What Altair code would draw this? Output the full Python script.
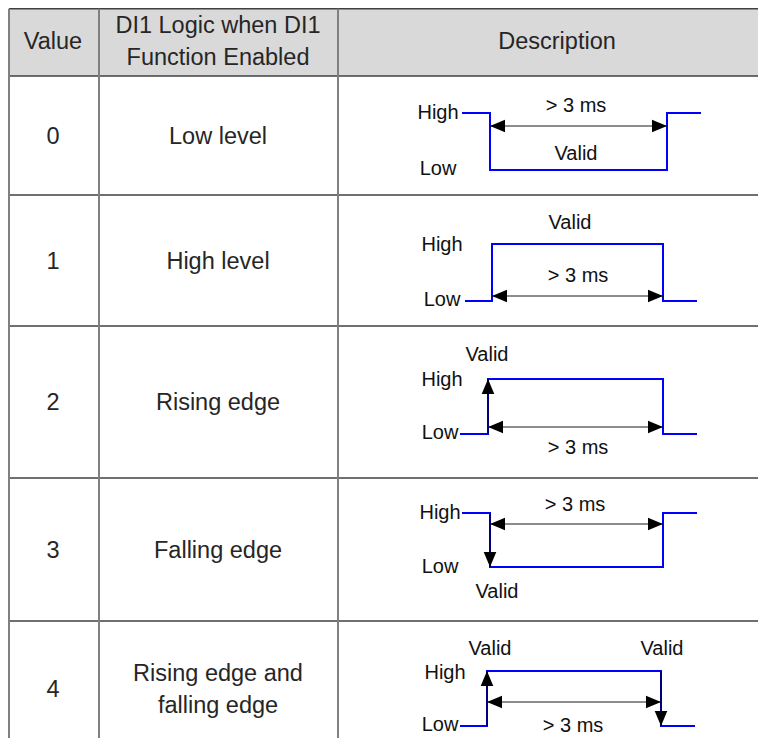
import altair as alt
import pandas as pd

# ---------------- table content ----------------
header_lines = [["Value"], ["DI1 Logic when DI1", "Function Enabled"], ["Description"]]
values = ["0", "1", "2", "3", "4"]
logic_lines = [
    ["Low level"],
    ["High level"],
    ["Rising edge"],
    ["Falling edge"],
    ["Rising edge and", "falling edge"],
]
# waveform of each row: level before the first edge, and which edges carry a "valid" arrow
start_level = ["High", "Low", "Low", "High", "Low"]
arrowed_edges = [[], [], [1], [1], [1, 2]]
span_text = "> 3 ms"
valid_text = "Valid"
high_text = "High"
low_text = "Low"

# ---------------- layout (page pixels) ----------------
W, H = 750, 730          # chart area; page origin of chart is (8, 8)
OX, OY = 8, 8
PAGE_W, PAGE_H = 766, 752
col_x = [7, 99, 338, 776]
row_y = [5, 76, 195, 326, 478, 621, 757]
col_center = [53, 218, 557]
line_gap = 32
table_font = 23.5
diag_font = 20

hi_y = [113, 244, 379, 513, 671]
lo_y = [170, 301, 434, 567, 726]
edge1_x = [490, 492, 488, 490, 487]
edge2_x = [667, 663, 663, 663, 661]
lead_x = [462, 465, 460, 462, 460]
tail_x = [701, 697, 697, 697, 695]
span_y = [126, 296, 427, 524, 702]
label_pos = [
    {"high": (438, 113), "low": (438, 169), "span": (576, 106), "valid": [(576, 154)]},
    {"high": (442, 245), "low": (442, 300), "span": (578, 276), "valid": [(570, 223)]},
    {"high": (442, 380), "low": (440, 433), "span": (578, 448), "valid": [(487, 355)]},
    {"high": (440, 513), "low": (440, 567), "span": (575, 505), "valid": [(497, 592)]},
    {"high": (445, 673), "low": (440, 725), "span": (573, 726), "valid": [(490, 649), (662, 649)]},
]

# ---------------- build tables ----------------
def cx(v):
    return min(max(v, OX + 1), PAGE_W - 0.5)

def cy(v):
    return min(max(v, OY + 0.8), PAGE_H - 0.5)

header_rect = pd.DataFrame([{"x": cx(col_x[0]), "x2": cx(col_x[-1]), "y": OY, "y2": row_y[1]}])

hlines = pd.DataFrame([{"x": cx(col_x[0]), "x2": cx(col_x[-1]), "y": cy(y), "y2": cy(y)} for y in row_y if y < PAGE_H])
vlines = pd.DataFrame([{"x": cx(x), "x2": cx(x), "y": cy(row_y[0]), "y2": cy(row_y[-1])} for x in col_x if x < PAGE_W])

cells = []
for c, lines in enumerate(header_lines):
    ym = (row_y[0] + row_y[1]) / 2 + 1
    n = len(lines)
    for i, t in enumerate(lines):
        cells.append({"x": col_center[c], "y": ym + (i - (n - 1) / 2) * line_gap, "t": t})
for r in range(len(values)):
    ym = (row_y[r + 1] + row_y[r + 2]) / 2 + 1
    cells.append({"x": col_center[0], "y": ym, "t": values[r]})
    n = len(logic_lines[r])
    for i, t in enumerate(logic_lines[r]):
        cells.append({"x": col_center[1], "y": ym + (i - (n - 1) / 2) * line_gap, "t": t})
cells = pd.DataFrame(cells)

wave, edges, heads, spans, labels = [], [], [], [], []
for r in range(len(values)):
    a = lo_y[r] if start_level[r] == "Low" else hi_y[r]
    b = hi_y[r] if start_level[r] == "Low" else lo_y[r]
    pts = [(lead_x[r], a), (edge1_x[r], a), (edge1_x[r], b), (edge2_x[r], b), (edge2_x[r], a), (tail_x[r], a)]
    for k, (px, py) in enumerate(pts):
        wave.append({"row": r, "k": k, "x": px, "y": py})
    for e in arrowed_edges[r]:
        ex = edge1_x[r] if e == 1 else edge2_x[r]
        y_from, y_to = (a, b) if e == 1 else (b, a)
        edges.append({"x": ex, "x2": ex, "y": y_from, "y2": y_to})
        shape = "M0,0L-0.42,1L0.42,1Z" if y_to < y_from else "M0,0L-0.42,-1L0.42,-1Z"
        heads.append({"x": ex, "y": y_to, "shape": shape})
    spans.append({"x": edge1_x[r], "x2": edge2_x[r], "y": span_y[r], "y2": span_y[r]})
    heads.append({"x": edge1_x[r], "y": span_y[r], "shape": "M0,0L1,-0.42L1,0.42Z"})
    heads.append({"x": edge2_x[r], "y": span_y[r], "shape": "M0,0L-1,-0.42L-1,0.42Z"})
    lp = label_pos[r]
    labels.append({"x": lp["high"][0], "y": lp["high"][1], "t": high_text})
    labels.append({"x": lp["low"][0], "y": lp["low"][1], "t": low_text})
    labels.append({"x": lp["span"][0], "y": lp["span"][1], "t": span_text})
    for vx, vy in lp["valid"]:
        labels.append({"x": vx, "y": vy, "t": valid_text})

wave = pd.DataFrame(wave)
edges = pd.DataFrame(edges)
heads = pd.DataFrame(heads)
spans = pd.DataFrame(spans)
labels = pd.DataFrame(labels)

# ---------------- chart ----------------
xs = alt.Scale(domain=[OX, OX + W], nice=False, zero=False)
ys = alt.Scale(domain=[OY, OY + H], nice=False, zero=False, reverse=True)
X = lambda f="x": alt.X(f"{f}:Q", scale=xs, axis=None)
Y = lambda f="y": alt.Y(f"{f}:Q", scale=ys, axis=None)

rect = alt.Chart(header_rect).mark_rect(fill="#d9d9d9").encode(x=X(), x2="x2:Q", y=Y(), y2="y2:Q")
hl = alt.Chart(hlines).mark_rule(color="#404040", strokeWidth=1.4).encode(x=X(), x2="x2:Q", y=Y(), y2="y2:Q")
vl = alt.Chart(vlines).mark_rule(color="#808080", strokeWidth=2).encode(x=X(), x2="x2:Q", y=Y(), y2="y2:Q")
cell_text = alt.Chart(cells).mark_text(
    font="Liberation Sans", fontSize=table_font, color="#262626", align="center", baseline="middle"
).encode(x=X(), y=Y(), text="t:N")
wave_line = alt.Chart(wave).mark_line(color="#0000ff", strokeWidth=2, strokeJoin="miter", strokeCap="butt").encode(
    x=X(), y=Y(), detail="row:N", order="k:Q"
)
edge_line = alt.Chart(edges).mark_rule(color="#000000", strokeWidth=1).encode(x=X(), x2="x2:Q", y=Y(), y2="y2:Q")
span_line = alt.Chart(spans).mark_rule(color="#1a1a1a", strokeWidth=1).encode(x=X(), x2="x2:Q", y=Y(), y2="y2:Q")
head_pts = alt.Chart(heads).mark_point(filled=True, color="#000000", opacity=1, size=900, strokeWidth=0).encode(
    x=X(), y=Y(), shape=alt.Shape("shape:N", scale=None)
)
diag_text = alt.Chart(labels).mark_text(
    font="Liberation Sans", fontSize=diag_font, color="#111111", align="center", baseline="middle"
).encode(x=X(), y=Y(), text="t:N")

chart = alt.layer(rect, hl, vl, cell_text, wave_line, edge_line, span_line, head_pts, diag_text).properties(
    width=W, height=H, padding=0, autosize=alt.AutoSizeParams(type="none")
).configure_view(stroke=None)

chart.save("out.html", embed_options={"renderer": "svg", "actions": False})
